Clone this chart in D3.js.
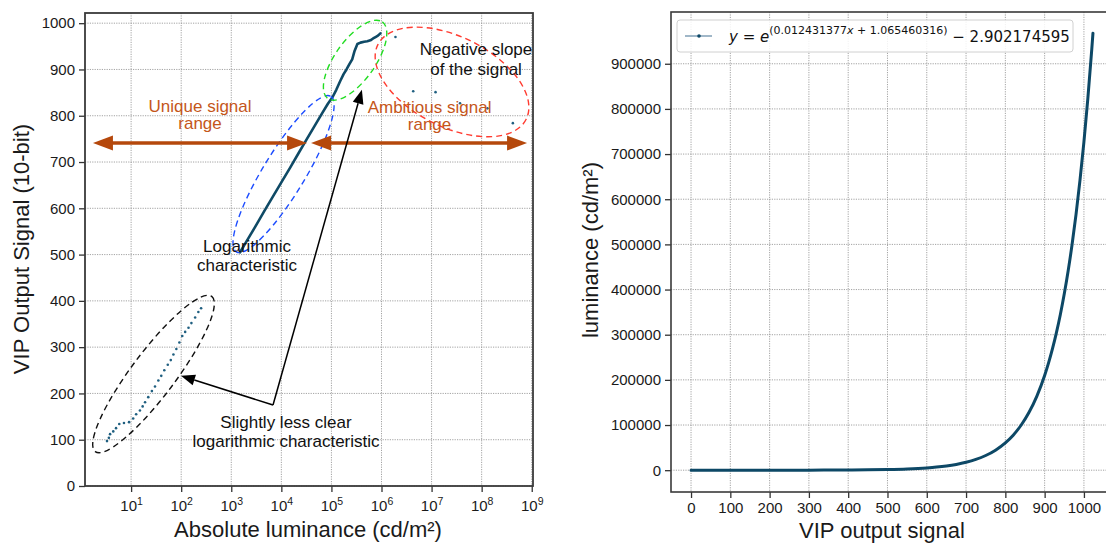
<!DOCTYPE html>
<html>
<head>
<meta charset="utf-8">
<script src="https://cdn.jsdelivr.net/npm/d3@7"></script>
<style>
  body { margin: 0; background: #fff; }
  svg text { font-family: "Liberation Sans", Arial, sans-serif; fill: #1a1a1a; }
</style>
</head>
<body>
<div id="chart"></div>
<script>
////////////////// data ////////////////////////////////////

// left panel: measured VIP output vs absolute luminance
// lower, noisy part of the measurement
let low_lum = [3.3, 3.6, 3.8, 4.4, 5.0, 5.8, 7.2, 9.1, 11, 12.6, 15, 17, 19, 22, 26, 30,
               35, 40, 46, 54, 62, 70, 80, 92, 105, 120, 140, 160, 190, 220, 250];
let low_sig = [97, 104, 112, 118, 125, 134, 136, 138, 146, 155, 163, 172, 181, 192, 205, 215,
               228, 238, 250, 262, 272, 284, 296, 310, 324, 333, 342, 352, 364, 376, 384];
// main (logarithmic) part
let main_lum = [1500, 2000, 3000, 4500, 6500, 10000, 15000, 22000, 32000, 45000, 65000, 85000,
                105000, 125000, 150000, 175000, 200000, 230000, 260000, 290000, 330000, 380000,
                450000, 520000, 600000, 680000, 760000, 850000, 950000];
let main_sig = [505, 528, 560, 593, 622, 656, 688, 719, 749, 776, 805, 826,
                840, 856, 875, 890, 900, 912, 922, 940, 955, 958,
                960, 961, 963, 967, 970, 973, 978];
// stray points past the saturation
let stray_lum = [1.9e6, 4.3e6, 1.2e7, 3.7e7, 1.3e8, 4.2e8];
let stray_sig = [970, 853, 851, 827, 816, 784];

let lum_ticks = [1e1, 1e2, 1e3, 1e4, 1e5, 1e6, 1e7, 1e8, 1e9];
let sig_ticks = [0, 100, 200, 300, 400, 500, 600, 700, 800, 900, 1000];

// right panel: fitted curve luminance(VIP signal)
let vip_signal = [0, 50, 100, 150, 200, 250, 300, 350, 400, 450, 500, 550, 600,
                  625, 650, 675, 700, 725, 750, 775, 800,
                  820, 840, 860, 880, 900,
                  910, 920, 930, 940, 950, 960, 970, 980, 990, 1000, 1010, 1020, 1023];
let vip_luminance = [0, 2.5, 7, 16, 32, 62, 118, 222, 416, 777, 1450, 2700, 5030,
                     6870, 9380, 12800, 17460, 23830, 32520, 44380, 60560,
                     77580, 99490, 127570, 163570, 209720,
                     237520, 268940, 304550, 344870, 390530, 442200, 500730, 567080, 642160,
                     727090, 823300, 932280, 967690];
let vip_ticks = [0, 100, 200, 300, 400, 500, 600, 700, 800, 900, 1000];
let vip_lum_ticks = [0, 100000, 200000, 300000, 400000, 500000, 600000, 700000, 800000, 900000];

let fit_label = { a: "0.012431377", b: "1.065460316", c: "2.902174595" };

////////////////// setup ////////////////////////////////////

let svg = d3.select("#chart")
            .append("svg")
            .attr("width", 1106)
            .attr("height", 544);

let grid_color = "#8c8c8c";
let dot_color = "#0f4a66";
let orange = "#b5480c";
let orange_text = "#c4561a";

function styleAxis(g) {
  g.attr("font-family", "Liberation Sans, Arial, sans-serif")
   .attr("font-size", 15);
  g.select(".domain").remove();
  g.selectAll(".tick line").attr("stroke", "#333").attr("stroke-width", 1.3);
  g.selectAll(".tick text").attr("fill", "#1a1a1a");
}

////////////////// left panel ////////////////////////////////////

let L = { x0: 85, x1: 533, y0: 13, y1: 486 };
let x_left = d3.scaleLog().domain([1.2, 1.06e9]).range([L.x0, L.x1]);
let y_left = d3.scaleLinear().domain([0, 1022]).range([L.y1, L.y0]);
let g_left = svg.append("g");

// grid
g_left.selectAll(".vgrid").data(lum_ticks).enter()
      .append("line")
      .attr("x1", d => x_left(d)).attr("x2", d => x_left(d))
      .attr("y1", L.y0).attr("y2", L.y1)
      .attr("stroke", grid_color).attr("stroke-width", 0.8)
      .attr("stroke-dasharray", "1.2,1.2");
g_left.selectAll(".hgrid").data(sig_ticks).enter()
      .append("line")
      .attr("x1", L.x0).attr("x2", L.x1)
      .attr("y1", d => y_left(d)).attr("y2", d => y_left(d))
      .attr("stroke", grid_color).attr("stroke-width", 0.8)
      .attr("stroke-dasharray", "1.2,1.2");

// axes
g_left.append("g")
      .attr("transform", `translate(${L.x0},0)`)
      .call(d3.axisLeft(y_left).tickValues(sig_ticks).tickFormat(d3.format("d")).tickSize(6).tickPadding(4).tickSizeOuter(0))
      .call(styleAxis);
let xa_left = g_left.append("g")
      .attr("transform", `translate(0,${L.y1})`)
      .call(d3.axisBottom(x_left).tickValues(lum_ticks).tickFormat(() => "").tickSize(6).tickPadding(8).tickSizeOuter(0))
      .call(styleAxis);
xa_left.selectAll(".tick text").each(function(d) {
  let t = d3.select(this);
  t.append("tspan").text("10");
  t.append("tspan").attr("dy", "-0.5em").attr("font-size", 10.5).text(Math.round(Math.log10(d)));
});

// frame
g_left.append("rect")
      .attr("x", L.x0).attr("y", L.y0)
      .attr("width", L.x1 - L.x0).attr("height", L.y1 - L.y0)
      .attr("fill", "none").attr("stroke", "#3a3a3a").attr("stroke-width", 1.8);

// data marks
let main_pts = main_lum.map((d, i) => [d, main_sig[i]]);
g_left.append("path")
      .datum(main_pts)
      .attr("fill", "none")
      .attr("stroke", dot_color)
      .attr("stroke-width", 2.6)
      .attr("stroke-linejoin", "round")
      .attr("stroke-linecap", "round")
      .attr("d", d3.line().x(d => x_left(d[0])).y(d => y_left(d[1])));

let low_pts = low_lum.map((d, i) => [d, low_sig[i]]);
let stray_pts = stray_lum.map((d, i) => [d, stray_sig[i]]);
g_left.selectAll(".lowpt").data(low_pts.concat(stray_pts)).enter()
      .append("circle")
      .attr("cx", d => x_left(d[0]))
      .attr("cy", d => y_left(d[1]))
      .attr("r", 1.3)
      .attr("fill", "#1f5f80");

// annotation ellipses: centre in data units, size in px
let ellipses = [
  { lum: 11070, sig: 674, rx: 91, ry: 21, rot: -58.7, color: "#1c4cff" },
  { lum: 2.97e5, sig: 920, rx: 47, ry: 20, rot: -54.6, color: "#22dd22" },
  { lum: 2.56e7, sig: 873, rx: 83, ry: 45, rot: 26.7, color: "#ff3b30" },
  { lum: 28, sig: 242, rx: 97, ry: 22, rot: -53.1, color: "#111" }
];
g_left.selectAll(".ell").data(ellipses).enter()
      .append("ellipse")
      .attr("transform", d => `translate(${x_left(d.lum)},${y_left(d.sig)}) rotate(${d.rot})`)
      .attr("rx", d => d.rx).attr("ry", d => d.ry)
      .attr("fill", "none")
      .attr("stroke", d => d.color)
      .attr("stroke-width", 1.4)
      .attr("stroke-dasharray", "6,4");

// orange range arrows
function doubleArrow(lumA, lumB, sig) {
  let xa = x_left(lumA), xb = x_left(lumB), y = y_left(sig);
  let hl = 20, hw = 7.5;
  g_left.append("line")
        .attr("x1", xa + hl - 2).attr("x2", xb - hl + 2)
        .attr("y1", y).attr("y2", y)
        .attr("stroke", orange).attr("stroke-width", 3.6);
  g_left.append("path")
        .attr("d", `M${xa},${y} L${xa + hl},${y - hw} L${xa + hl},${y + hw} Z`)
        .attr("fill", orange);
  g_left.append("path")
        .attr("d", `M${xb},${y} L${xb - hl},${y - hw} L${xb - hl},${y + hw} Z`)
        .attr("fill", orange);
}
doubleArrow(1.73, 32600, 741);
doubleArrow(39200, 8.07e8, 741);

// black pointer arrows
function pointer(from, to) {
  let x1 = x_left(from[0]), y1 = y_left(from[1]);
  let x2 = x_left(to[0]), y2 = y_left(to[1]);
  let ang = Math.atan2(y2 - y1, x2 - x1);
  let hl = 14, hw = 5.5;
  let bx = x2 - hl * Math.cos(ang), by = y2 - hl * Math.sin(ang);
  g_left.append("line")
        .attr("x1", x1).attr("y1", y1).attr("x2", bx).attr("y2", by)
        .attr("stroke", "#000").attr("stroke-width", 1.5);
  g_left.append("path")
        .attr("d", `M${x2},${y2} L${bx + hw * Math.sin(ang)},${by - hw * Math.cos(ang)} L${bx - hw * Math.sin(ang)},${by + hw * Math.cos(ang)} Z`)
        .attr("fill", "#000");
}
pointer([6820, 175], [99, 238]);
pointer([6820, 175], [4.06e5, 856]);

// annotation texts
let notes = [
  { lum: 238, sig: 808, lines: ["Unique signal", "range"], color: orange_text, gap: 17 },
  { lum: 9.1e6, sig: 806, lines: ["Ambitious signal", "range"], color: orange_text, gap: 17 },
  { lum: 7.73e7, sig: 931, lines: ["Negative slope", "of the signal"], color: "#111", gap: 20 },
  { lum: 2065, sig: 506, lines: ["Logarithmic", "characteristic"], color: "#111", gap: 19 },
  { lum: 12400, sig: 125, lines: ["Slightly less clear", "logarithmic characteristic"], color: "#111", gap: 19 }
];
notes.forEach(function(n) {
  let t = g_left.append("text")
                .attr("x", x_left(n.lum))
                .attr("y", y_left(n.sig))
                .attr("text-anchor", "middle")
                .style("font-size", "17px")
                .style("fill", n.color);
  n.lines.forEach(function(s, i) {
    t.append("tspan").attr("x", x_left(n.lum)).attr("dy", i === 0 ? 0 : n.gap).text(s);
  });
});

// axis titles
svg.append("text")
   .attr("transform", "translate(29,249) rotate(-90)")
   .attr("text-anchor", "middle")
   .style("font-size", "22px")
   .text("VIP Output Signal (10-bit)");
svg.append("text")
   .attr("x", 308).attr("y", 537)
   .attr("text-anchor", "middle")
   .style("font-size", "22px")
   .text("Absolute luminance (cd/m²)");

////////////////// right panel ////////////////////////////////////

let R = { x0: 671, x1: 1113, y0: 12, y1: 492 };
let x_right = d3.scaleLinear().domain([-51, 1074]).range([R.x0, R.x1]);
let y_right = d3.scaleLinear().domain([-48300, 1014600]).range([R.y1, R.y0]);
let g_right = svg.append("g");

g_right.selectAll(".vgrid").data(vip_ticks).enter()
       .append("line")
       .attr("x1", d => x_right(d)).attr("x2", d => x_right(d))
       .attr("y1", R.y0).attr("y2", R.y1)
       .attr("stroke", grid_color).attr("stroke-width", 0.8)
       .attr("stroke-dasharray", "1.2,1.2");
g_right.selectAll(".hgrid").data(vip_lum_ticks).enter()
       .append("line")
       .attr("x1", R.x0).attr("x2", R.x1)
       .attr("y1", d => y_right(d)).attr("y2", d => y_right(d))
       .attr("stroke", grid_color).attr("stroke-width", 0.8)
       .attr("stroke-dasharray", "1.2,1.2");

g_right.append("g")
       .attr("transform", `translate(${R.x0},0)`)
       .call(d3.axisLeft(y_right).tickValues(vip_lum_ticks).tickFormat(d3.format("d")).tickSize(6).tickPadding(4).tickSizeOuter(0))
       .call(styleAxis);
g_right.append("g")
       .attr("transform", `translate(0,${R.y1})`)
       .call(d3.axisBottom(x_right).tickValues(vip_ticks).tickFormat(d3.format("d")).tickSize(6).tickPadding(4).tickSizeOuter(0))
       .call(styleAxis);

g_right.append("rect")
       .attr("x", R.x0).attr("y", R.y0)
       .attr("width", R.x1 - R.x0).attr("height", R.y1 - R.y0)
       .attr("fill", "none").attr("stroke", "#3a3a3a").attr("stroke-width", 1.6);

let fit_pts = vip_signal.map((d, i) => [d, vip_luminance[i]]);
g_right.append("path")
       .datum(fit_pts)
       .attr("fill", "none")
       .attr("stroke", "#0d4866")
       .attr("stroke-width", 3)
       .attr("stroke-linecap", "round")
       .attr("d", d3.line().curve(d3.curveMonotoneX)
                    .x(d => x_right(d[0]))
                    .y(d => y_right(d[1])));

// legend
let lg = g_right.append("g");
lg.append("rect")
  .attr("x", 677).attr("y", 20).attr("width", 396).attr("height", 32).attr("rx", 3)
  .attr("fill", "#fff").attr("fill-opacity", 0.85)
  .attr("stroke", "#d0d0d0").attr("stroke-width", 1);
lg.append("line")
  .attr("x1", 685).attr("x2", 712).attr("y1", 36).attr("y2", 36)
  .attr("stroke", "#6d90ab").attr("stroke-width", 1.3);
lg.append("circle")
  .attr("cx", 699).attr("cy", 36).attr("r", 1.8).attr("fill", "#0d4866");
let lt = lg.append("text")
  .attr("x", 729).attr("y", 42)
  .style("font-family", "DejaVu Sans, sans-serif")
  .style("font-size", "15px")
  .style("fill", "#111");
lt.append("tspan").style("font-style", "italic").text("y");
lt.append("tspan").text(" = ");
lt.append("tspan").style("font-style", "italic").text("e");
lt.append("tspan").attr("dy", -8).style("font-size", "11px").text(`(${fit_label.a}`);
lt.append("tspan").style("font-size", "11px").style("font-style", "italic").text("x");
lt.append("tspan").style("font-size", "11px").text(` + ${fit_label.b})`);
lt.append("tspan").attr("dy", 8).text(` − ${fit_label.c}`);

svg.append("text")
   .attr("transform", "translate(598,250) rotate(-90)")
   .attr("text-anchor", "middle")
   .style("font-size", "22px")
   .text("luminance (cd/m²)");
svg.append("text")
   .attr("x", 882).attr("y", 538)
   .attr("text-anchor", "middle")
   .style("font-size", "22px")
   .text("VIP output signal");
</script>
</body>
</html>
